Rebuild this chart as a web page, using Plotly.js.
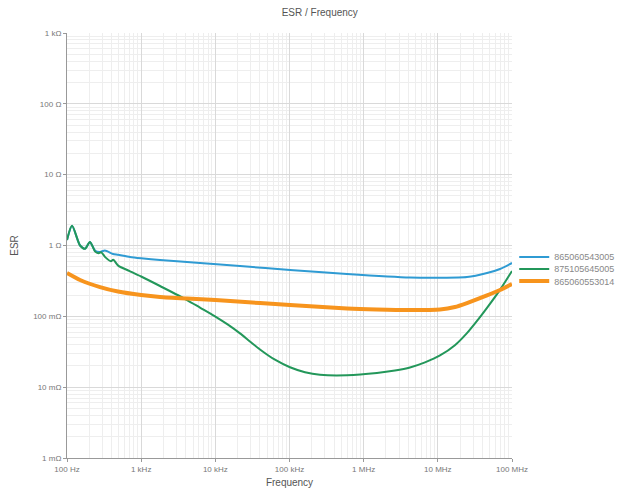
<!DOCTYPE html>
<html>
<head>
<meta charset="utf-8">
<script src="https://cdn.plot.ly/plotly-3.0.1.min.js"></script>
<style>html,body{margin:0;padding:0;background:#fff;}#chart{width:627px;height:491px;}</style>
</head>
<body>
<div id="chart"></div>
<script>
// Frequencies in Hz, ESR in ohms
const seriesNames = ["865060543005", "875105645005", "865060553014"];

const freqBlue = [100, 117, 150, 175, 204, 240, 279, 325, 417, 487, 707, 1000, 1794, 6213, 21500, 101500, 596000, 4.21e6, 1.07e7, 2.47e7, 4.6e7, 6.89e7, 1e8];
const esrBlue  = [1.2, 1.9, 1.0, 0.9, 1.12, 0.84, 0.81, 0.85, 0.76, 0.74, 0.688, 0.66, 0.624, 0.566, 0.513, 0.451, 0.396, 0.353, 0.35, 0.358, 0.409, 0.466, 0.566];

const freqGreen = [100, 117, 150, 175, 204, 240, 265, 290, 330, 390, 420, 490, 700, 1000, 1794, 4150, 6213, 9900, 14800, 21500, 29300, 40000, 63700, 101500, 161800, 257700, 596000, 1.51e6, 2.64e6, 4.21e6, 6.71e6, 1.07e7, 1.7e7, 2.47e7, 3.57e7, 4.6e7, 6.89e7, 1e8];
const esrGreen  = [1.2, 1.9, 1.0, 0.9, 1.12, 0.82, 0.78, 0.80, 0.68, 0.60, 0.63, 0.52, 0.436, 0.365, 0.268, 0.170, 0.133, 0.100, 0.0762, 0.0574, 0.0442, 0.0341, 0.0244, 0.0191, 0.01626, 0.01496, 0.01472, 0.01585, 0.01718, 0.01897, 0.0224, 0.0280, 0.0391, 0.0579, 0.0929, 0.1318, 0.2366, 0.4375];

const freqOrange = [100, 150, 279, 487, 1000, 1794, 4150, 10000, 40000, 101500, 596000, 1.5e6, 4.21e6, 1.07e7, 1.7e7, 2.47e7, 4.6e7, 6.89e7, 1e8];
const esrOrange  = [0.409, 0.326, 0.259, 0.224, 0.200, 0.1875, 0.178, 0.170, 0.154, 0.1445, 0.129, 0.125, 0.1228, 0.125, 0.1355, 0.154, 0.197, 0.235, 0.286];

const xTickVals = [100, 1000, 1e4, 1e5, 1e6, 1e7, 1e8];
const xTickText = ["100 Hz", "1 kHz", "10 kHz", "100 kHz", "1 MHz", "10 MHz", "100 MHz"];
const yTickVals = [0.001, 0.01, 0.1, 1, 10, 100, 1000];
const yTickText = ["1 mΩ", "10 mΩ", "100 mΩ", "1 Ω", "10 Ω", "100 Ω", "1 kΩ"];

function minorVals(majors) {
  const out = [];
  for (let i = 0; i < majors.length - 1; i++) {
    for (let k = 2; k <= 9; k++) out.push(majors[i] * k);
  }
  return out;
}

const traces = [
  {x: freqBlue, y: esrBlue, name: seriesNames[0], legend: "legend", mode: "lines", line: {color: "#2f9bd3", width: 2, shape: "spline", smoothing: 0.6}},
  {x: freqGreen, y: esrGreen, name: seriesNames[1], legend: "legend2", mode: "lines", line: {color: "#23975a", width: 2, shape: "spline", smoothing: 0.8}},
  {x: freqOrange, y: esrOrange, name: seriesNames[2], legend: "legend3", mode: "lines", line: {color: "#f7941d", width: 4, shape: "spline", smoothing: 0.6}}
];

const axisFont = {family: "Liberation Sans, Arial, sans-serif", size: 8, color: "#777"};
function leg(y) {
  return {x: 1.005, y: y, xanchor: "left", yanchor: "middle", font: {size: 9, color: "#888"}, itemwidth: 30, bgcolor: "rgba(0,0,0,0)"};
}

const layout = {
  width: 627, height: 491,
  margin: {l: 67, r: 115, t: 33, b: 33, autoexpand: false},
  paper_bgcolor: "#fff", plot_bgcolor: "#fff",
  font: {family: "Liberation Sans, Arial, sans-serif", color: "#666"},
  title: {text: "ESR / Frequency", font: {size: 10, color: "#555"}, x: 0.51, xanchor: "center", y: 0.975, yanchor: "middle"},
  showlegend: true,
  legend: leg(0.473),
  legend2: leg(0.445),
  legend3: leg(0.4165),
  xaxis: {
    type: "log", range: [2, 8],
    tickmode: "array", tickvals: xTickVals, ticktext: xTickText,
    tickfont: axisFont, ticks: "outside", ticklen: 3, tickcolor: "#999",
    showline: true, linecolor: "#999", linewidth: 1,
    showgrid: true, gridcolor: "#d9d9d9", gridwidth: 1,
    zeroline: false,
    minor: {tickmode: "array", tickvals: minorVals(xTickVals), showgrid: true, gridcolor: "#eeeeee", gridwidth: 1, ticks: ""},
    title: {text: "Frequency", font: {size: 10, color: "#555"}, standoff: 6}
  },
  yaxis: {
    type: "log", range: [-3, 3],
    tickmode: "array", tickvals: yTickVals, ticktext: yTickText,
    tickfont: axisFont, ticks: "outside", ticklen: 3, tickcolor: "#999",
    showline: true, linecolor: "#999", linewidth: 1,
    showgrid: true, gridcolor: "#d9d9d9", gridwidth: 1,
    zeroline: false,
    minor: {tickmode: "array", tickvals: minorVals(yTickVals), showgrid: true, gridcolor: "#eeeeee", gridwidth: 1, ticks: ""},
    title: {text: "ESR", font: {size: 10, color: "#555"}, standoff: 12}
  }
};

Plotly.newPlot("chart", traces, layout, {displayModeBar: false, staticPlot: true});
</script>
</body>
</html>
